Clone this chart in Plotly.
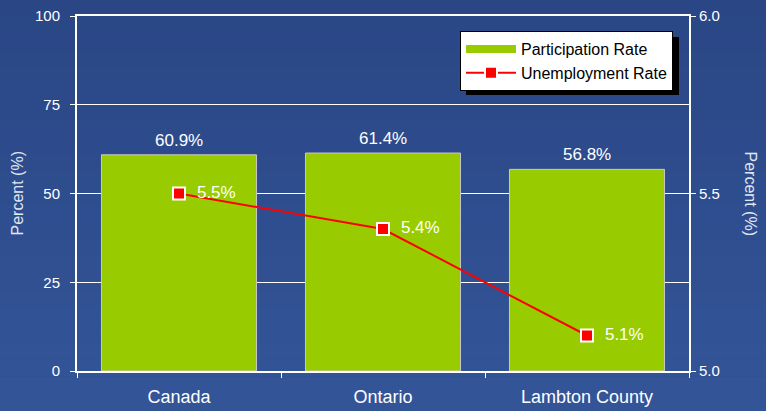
import plotly.graph_objects as go

categories = ["Canada", "Ontario", "Lambton County"]
participation = [60.9, 61.4, 56.8]
unemployment = [5.5, 5.4, 5.1]
left_ticks = [0, 25, 50, 75, 100]
right_ticks = [5.0, 5.5, 6.0]

FONT = "Liberation Sans, Arial, sans-serif"
W, H = 766, 411
ML, MR, MT, MB = 77, 77, 16, 40
PW, PH = W - ML - MR, H - MT - MB
GREEN = "#99CC00"
RED = "#FF0000"

fig = go.Figure()

fig.add_trace(go.Bar(
    x=categories, y=participation, name="Participation Rate",
    marker=dict(color=GREEN, line=dict(color="#C8C8C8", width=1)),
    width=0.76, showlegend=False,
))
# legend proxy for the bar series (wide swatch like the reference)
fig.add_trace(go.Scatter(
    x=[None], y=[None], name="Participation Rate", mode="lines",
    line=dict(color=GREEN, width=8),
))
fig.add_trace(go.Scatter(
    x=categories, y=unemployment, name="Unemployment Rate", yaxis="y2",
    mode="lines+markers+text",
    line=dict(color=RED, width=2),
    marker=dict(symbol="square", size=12, color=RED, line=dict(color="white", width=2)),
    text=[f"  {v:.1f}%" for v in unemployment], textposition="middle right",
    textfont=dict(color="white", size=17, family=FONT),
    cliponaxis=False,
))

annotations = [
    dict(x=c, y=v, xref="x", yref="y", text=f"{v:.1f}%", showarrow=False,
         yanchor="bottom", yshift=3, font=dict(color="white", size=17, family=FONT))
    for c, v in zip(categories, participation)
]
annotations += [
    dict(text="Percent (%)", xref="paper", yref="paper", x=(17 - ML) / PW, y=0.5,
         xanchor="center", yanchor="middle",
         textangle=-90, showarrow=False, font=dict(size=16, color="#E0E6F0", family=FONT)),
    dict(text="Percent (%)", xref="paper", yref="paper", x=(750 - ML) / PW, y=0.5,
         xanchor="center", yanchor="middle",
         textangle=90, showarrow=False, font=dict(size=16, color="#E0E6F0", family=FONT)),
]

# background gradient bands (paper coords extended beyond plot area)
top = (42, 70, 133)
bot = (51, 85, 152)
n = 24
shapes = []
x0p, x1p = -ML / PW, 1 + MR / PW
y0p, y1p = -MB / PH, 1 + MT / PH
for i in range(n):
    t = i / (n - 1)
    c = tuple(round(top[k] + (bot[k] - top[k]) * t) for k in range(3))
    ya = y1p - (y1p - y0p) * i / n
    yb = y1p - (y1p - y0p) * (i + 1) / n
    shapes.append(dict(type="rect", xref="paper", yref="paper", x0=x0p, x1=x1p, y0=yb, y1=ya,
                       fillcolor=f"rgb{c}", line=dict(width=0), layer="below"))

# legend shadow
lx, ly = 460, 31
lw, lh = 213, 58
shapes.append(dict(type="rect", xref="paper", yref="paper",
                   x0=(lx + 6 - ML) / PW, x1=(lx + lw + 6 - ML) / PW,
                   y0=(H - MB - (ly + lh + 6)) / PH, y1=(H - MB - (ly + 6)) / PH,
                   fillcolor="black", line=dict(width=0), layer="above"))

fig.update_layout(
    width=W, height=H,
    margin=dict(l=ML, r=MR, t=MT, b=MB, autoexpand=False),
    paper_bgcolor="#2E4D8E", plot_bgcolor="rgba(0,0,0,0)",
    font=dict(family=FONT, color="white"),
    showlegend=True,
    legend=dict(x=(lx - ML) / PW, y=(H - MB - ly) / PH, xanchor="left", yanchor="top",
                bgcolor="white", bordercolor="black", borderwidth=1,
                font=dict(color="black", size=16, family=FONT), itemwidth=50,
                tracegroupgap=0),
    xaxis=dict(showgrid=False, showline=True, linecolor="white", linewidth=2, mirror=True,
               ticks="outside", tickson="boundaries", ticklen=5, tickcolor="white",
               ticklabelstandoff=8,
               tickfont=dict(size=18, color="white", family=FONT)),
    yaxis=dict(range=[0, 100], tickvals=left_ticks, showgrid=True, gridcolor="white", gridwidth=1,
               showline=True, linecolor="white", linewidth=2,
               ticks="outside", ticklen=5, tickcolor="white", zeroline=False,
               ticklabelstandoff=7,
               tickfont=dict(size=15, color="white", family=FONT)),
    yaxis2=dict(range=[5.0, 6.0], tickvals=right_ticks, tickformat=".1f", overlaying="y", side="right",
                showgrid=False, showline=True, linecolor="white", linewidth=2,
                ticks="outside", ticklen=5, tickcolor="white", zeroline=False,
                tickfont=dict(size=15, color="white", family=FONT)),
    shapes=shapes,
    annotations=annotations,
)

fig.write_html("out.html", config={"displayModeBar": False},
               post_script="document.body.style.margin='0';")
